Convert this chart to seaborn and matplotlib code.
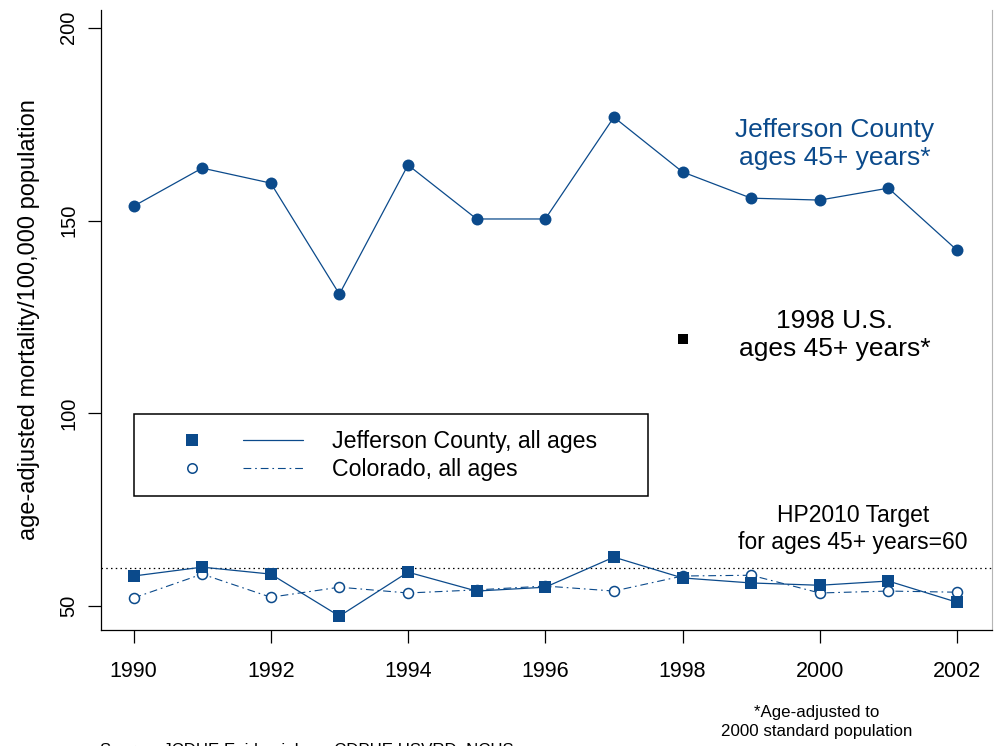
import matplotlib
matplotlib.use("Agg")
import matplotlib.pyplot as plt
import numpy as np
import pandas as pd
import seaborn as sns
from matplotlib.lines import Line2D
from matplotlib.legend_handler import HandlerBase
from matplotlib import font_manager

# ---------------- data ----------------
years = [1990, 1991, 1992, 1993, 1994, 1995, 1996, 1997, 1998, 1999, 2000, 2001, 2002]
jefferson_45plus = [153.7, 163.6, 159.7, 130.9, 164.4, 150.4, 150.4, 176.8, 162.6, 155.8, 155.3, 158.4, 142.3]
jefferson_all_ages = [57.8, 60.1, 58.3, 47.4, 58.8, 53.9, 54.9, 62.7, 57.3, 56.0, 55.4, 56.5, 51.0]
colorado_all_ages = [52.1, 58.3, 52.3, 54.9, 53.4, 54.2, 55.2, 53.9, 57.8, 58.0, 53.4, 53.9, 53.6]
us_1998_year = [1998]
us_1998_45plus = [119.3]
hp2010_target = 60
x_tick_values = [1990, 1992, 1994, 1996, 1998, 2000, 2002]
y_tick_values = [50, 100, 150, 200]
legend_labels = ["Jefferson County, all ages", "Colorado, all ages"]
ylabel_text = "age-adjusted mortality/100,000 population"

BLUE = "#0b4a8b"

sns.set_theme(style="ticks", rc={
    "axes.edgecolor": "black", "text.color": "black",
    "xtick.color": "black", "ytick.color": "black",
    "axes.labelcolor": "black",
})
plt.rcParams["font.family"] = ["Liberation Sans", "DejaVu Sans"]

fig = plt.figure(figsize=(9.97, 7.46), dpi=100)
ax = fig.add_axes([101 / 997, 1 - 630 / 746, 891 / 997, 620 / 746])

df = pd.DataFrame({
    "year": years,
    "jeff45": jefferson_45plus,
    "jeffall": jefferson_all_ages,
    "colorado": colorado_all_ages,
})

co_dash = (0, (7, 3.5, 1.5, 3.5))

# Colorado, all ages (drawn first, below)
sns.lineplot(data=df, x="year", y="colorado", ax=ax, estimator=None,
             color=BLUE, linewidth=0.8, linestyle=co_dash,
             marker="o", markersize=7.2, markerfacecolor="white",
             markeredgecolor=BLUE, markeredgewidth=1.1, zorder=3)
# Jefferson County, all ages
sns.lineplot(data=df, x="year", y="jeffall", ax=ax, estimator=None,
             color=BLUE, linewidth=0.9,
             marker="s", markersize=8.0, markerfacecolor=BLUE,
             markeredgecolor=BLUE, markeredgewidth=0, zorder=4)
# Jefferson County ages 45+
sns.lineplot(data=df, x="year", y="jeff45", ax=ax, estimator=None,
             color=BLUE, linewidth=0.9,
             marker="o", markersize=8.6, markerfacecolor=BLUE,
             markeredgecolor=BLUE, markeredgewidth=0, zorder=4)
# 1998 U.S.
sns.scatterplot(x=us_1998_year, y=us_1998_45plus, ax=ax, marker="s",
                s=55, color="black", linewidth=0, zorder=4)

# HP2010 target line
ax.axhline(hp2010_target, color="black", linewidth=0.9,
           linestyle=(0, (1.2, 2.6)), zorder=2)

ax.set_xlim(1989.526, 2002.51)
ax.set_ylim(43.8, 204.6)
ax.set_xticks(x_tick_values)
ax.set_yticks(y_tick_values)
ax.set_xticklabels([str(v) for v in x_tick_values])
ax.set_yticklabels([str(v) for v in y_tick_values])
ax.set_xlabel("")
ax.set_ylabel(ylabel_text, fontsize=17, labelpad=14)

ax.tick_params(axis="x", length=9.4, width=0.9, pad=13, labelsize=15.5, direction="out")
ax.tick_params(axis="y", length=9.4, width=0.9, pad=7, labelsize=14.5, direction="out",
               labelrotation=90)
for lab in ax.get_yticklabels():
    lab.set_va("center")

for side in ["left", "bottom"]:
    ax.spines[side].set_color("black")
    ax.spines[side].set_linewidth(0.9)
ax.spines["top"].set_visible(False)
ax.spines["right"].set_color("#b5b5b5")
ax.spines["right"].set_linewidth(0.8)

# annotations
ax.text(2000.22, 169.8, "Jefferson County\nages 45+ years*", color=BLUE,
        fontsize=19, ha="center", va="center", linespacing=1.2, multialignment="center")
ax.text(2000.22, 120.3, "1998 U.S.\nages 45+ years*", color="black",
        fontsize=19, ha="center", va="center", linespacing=1.2, multialignment="center")
ax.text(2000.48, 70.0, "HP2010 Target\nfor ages 45+ years=60", color="black",
        fontsize=16.5, ha="center", va="center", linespacing=1.17, multialignment="center")


# legend: marker column + line column + label
class MarkerLineHandler(HandlerBase):
    def create_artists(self, legend, orig_handle, xdescent, ydescent,
                       width, height, fontsize, trans):
        mk, ln = orig_handle
        y = height / 2 - ydescent
        x0 = -xdescent
        m = Line2D([x0 + 0.275 * width], [y])
        m.update_from(mk)
        m.set_linestyle("none")
        l = Line2D([x0 + 0.609 * width, x0 + width], [y, y])
        l.update_from(ln)
        l.set_marker("")
        m.set_transform(trans)
        l.set_transform(trans)
        return [l, m]


mk1 = Line2D([], [], linestyle="none", marker="s", markersize=8.5,
             markerfacecolor=BLUE, markeredgecolor=BLUE, markeredgewidth=0)
ln1 = Line2D([], [], color=BLUE, linewidth=0.9, linestyle="-")
mk2 = Line2D([], [], linestyle="none", marker="o", markersize=6.8,
             markerfacecolor="white", markeredgecolor=BLUE, markeredgewidth=1.1)
ln2 = Line2D([], [], color=BLUE, linewidth=0.8, linestyle=co_dash)

leg = ax.legend(handles=[(mk1, ln1), (mk2, ln2)], labels=legend_labels,
                handler_map={tuple: MarkerLineHandler()},
                loc="upper left", bbox_to_anchor=(0.037, 0.348, 0.577, 0.0),
                mode="expand", borderaxespad=0, fontsize=16.7,
                frameon=True, fancybox=False, shadow=False, framealpha=1,
                edgecolor="black", borderpad=0.67, labelspacing=0.22,
                handlelength=6.62, handletextpad=1.25, handleheight=0.7)
leg.get_frame().set_linewidth(1.1)

# footnotes
names = {f.name for f in font_manager.fontManager.ttflist}
if "Liberation Sans Narrow" in names:
    foot_family, foot_size = ["Liberation Sans Narrow", "DejaVu Sans"], 14.6
else:
    foot_family, foot_size = ["Liberation Sans", "DejaVu Sans"], 12.2

fig.text(817 / 997, 1 - 722 / 746, "*Age-adjusted to\n2000 standard population",
         family=foot_family, fontsize=foot_size, ha="center", va="center",
         multialignment="center", linespacing=1.3)
fig.text(100 / 997, 1 - 743 / 746, "Source: JCDHE Epidemiology, CDPHE HSVRD, NCHS",
         family=foot_family, fontsize=foot_size, ha="left", va="top")

fig.savefig("out.png", dpi=100)
